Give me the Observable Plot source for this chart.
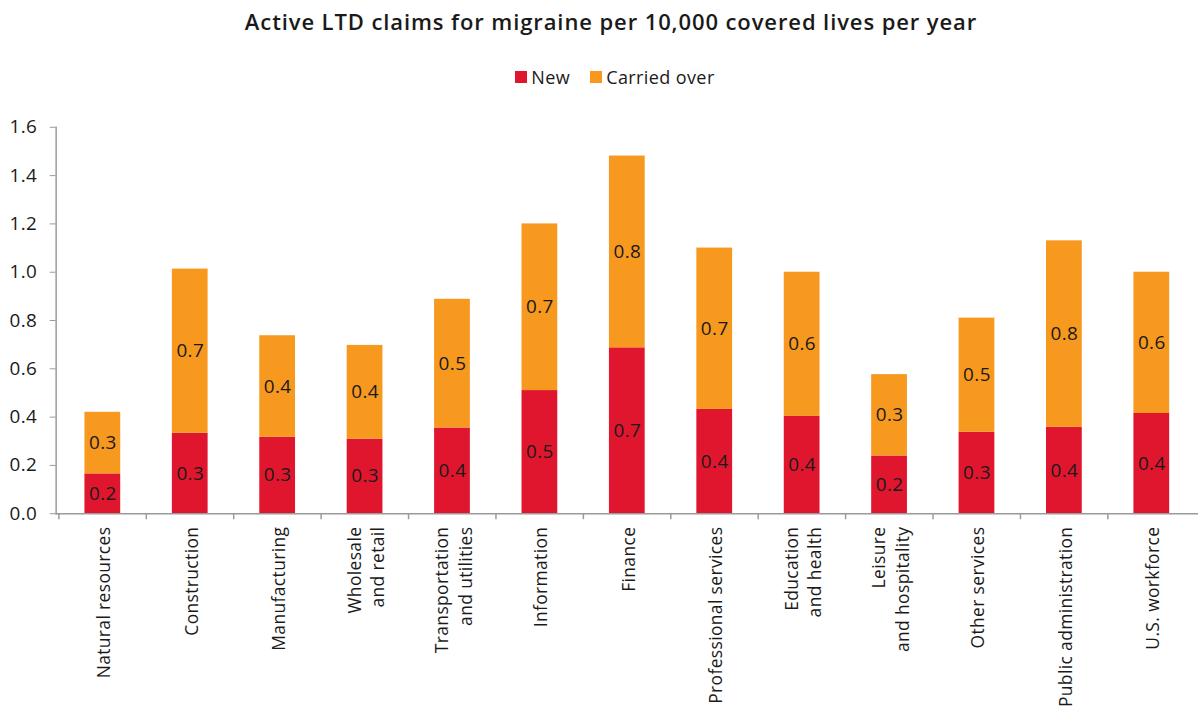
<!DOCTYPE html>
<html>
<head>
<meta charset="utf-8">
<script src="https://cdn.jsdelivr.net/npm/d3@7"></script>
<script src="https://cdn.jsdelivr.net/npm/@observablehq/plot@0.6"></script>
<style>
  html, body { margin: 0; padding: 0; background: #fff; overflow: hidden; width: 1198px; height: 716px; }
  body { position: relative; font-family: "Open Sans", sans-serif; color: #1a1a1a; }
  #title { position: absolute; top: 6px; left: 0; width: 1222px; text-align: center; font-size: 22px; font-weight: 600; letter-spacing: 0.9px; }
  #legend { position: absolute; top: 64px; left: 0; width: 1230px; text-align: center; font-size: 18px; letter-spacing: 0.4px; }
  #legend span.item { display: inline-flex; align-items: center; margin: 0 10px; }
  #legend span.sw { display: inline-block; width: 12px; height: 12px; margin-right: 4px; }
  #chart { position: absolute; top: 100px; left: 0; line-height: 0; }
</style>
</head>
<body>
<div id="title">Active LTD claims for migraine per 10,000 covered lives per year</div>
<div id="legend"></div>
<div id="chart"></div>
<script>
const categories = [
  "Natural resources", "Construction", "Manufacturing", "Wholesale\nand retail",
  "Transportation\nand utilities", "Information", "Finance", "Professional services",
  "Education\nand health", "Leisure\nand hospitality", "Other services",
  "Public administration", "U.S. workforce"
];
const newValues     = [0.165, 0.333, 0.317, 0.309, 0.355, 0.51, 0.687, 0.432, 0.403, 0.239, 0.337, 0.358, 0.415];
const carriedValues = [0.255, 0.68, 0.42, 0.388, 0.533, 0.69, 0.794, 0.668, 0.597, 0.337, 0.473, 0.772, 0.585];
const seriesNames = ["New", "Carried over"];
const seriesColors = ["#E0162F", "#F7981F"];
const yTicks = [0, 0.2, 0.4, 0.6, 0.8, 1.0, 1.2, 1.4, 1.6];

const data = [];
categories.forEach((c, i) => {
  data.push({category: c, series: seriesNames[0], value: newValues[i]});
  data.push({category: c, series: seriesNames[1], value: carriedValues[i]});
});

// legend
const legend = document.getElementById("legend");
seriesNames.forEach((s, i) => {
  const item = document.createElement("span");
  item.className = "item";
  const sw = document.createElement("span");
  sw.className = "sw";
  sw.style.background = seriesColors[i];
  item.appendChild(sw);
  item.appendChild(document.createTextNode(s));
  legend.appendChild(item);
});

const width = 1206, height = 616, marginLeft = 56, marginRight = 0;
const step = (width - marginLeft - marginRight) / categories.length;
const grey = "#9a9a9a";

const chart = Plot.plot({
  width, height,
  marginTop: 27, marginBottom: 200, marginLeft, marginRight,
  style: {fontFamily: "Open Sans, sans-serif", fontSize: "18px", color: "#1a1a1a", background: "transparent", letterSpacing: "0.4px"},
  x: {domain: categories, paddingInner: 0.593, paddingOuter: 0.2965, label: null},
  y: {domain: [0, 1.6], label: null},
  color: {domain: seriesNames, range: seriesColors},
  marks: [
    Plot.frame({anchor: "left", stroke: grey, strokeWidth: 1.5}),
    Plot.barY(data, {x: "category", y: "value", fill: "series", order: seriesNames}),
    Plot.text(data, Plot.stackY({x: "category", y: "value", z: "series", order: seriesNames,
      text: d => d.value.toFixed(1), fill: "#1a1a1a", fontSize: 19})),
    Plot.ruleY([0], {stroke: grey, strokeWidth: 1.5}),
    Plot.ruleX(categories, {x: d => d, dx: -step / 2, y1: 0, y2: 0, insetBottom: -6, stroke: grey, strokeWidth: 1.5}),
    Plot.axisY({ticks: yTicks, tickFormat: d3.format(".1f"), tickSize: 6, tickPadding: 13, stroke: grey, fontSize: 19, color: "#1a1a1a"}),
    Plot.axisX({tickSize: 0, tickPadding: 13, tickRotate: -90, fontSize: 17.5, lineHeight: 1.35})
  ]
});
document.getElementById("chart").appendChild(chart);
</script>
</body>
</html>
